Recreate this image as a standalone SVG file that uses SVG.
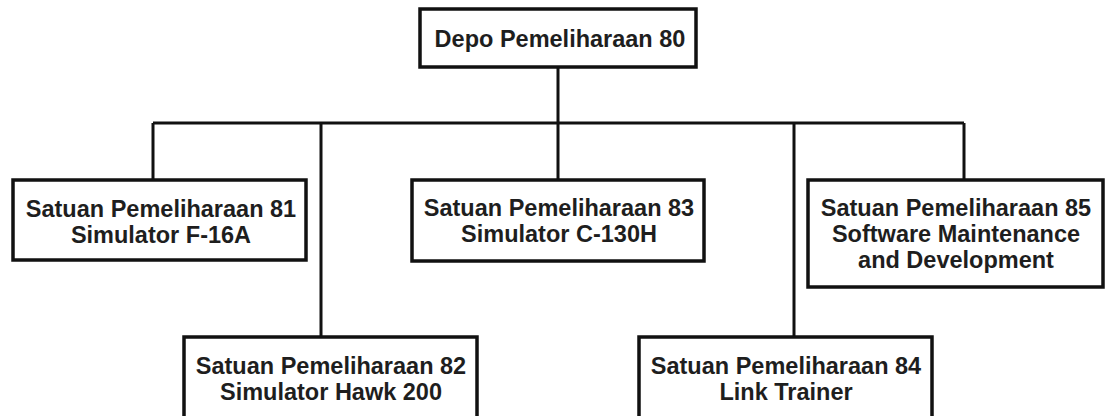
<svg xmlns="http://www.w3.org/2000/svg" width="1110" height="416" viewBox="0 0 1110 416">
<style>
.box{fill:#fff;stroke:#111;stroke-width:3.5}
.ln{fill:none;stroke:#111;stroke-width:3}
text{font-family:"Liberation Sans",Arial,sans-serif;font-weight:bold;font-size:23.5px;fill:#1e1e1e;text-anchor:middle}
</style>
<rect width="1110" height="416" fill="#fff"/>
<g id="connectors">
<path class="ln" d="M558 67V123M153 123H964M153 123V180M321 123V337M558 123V180M794 123V337M964 123V180"/>
</g>
<g id="n80">
<rect class="box" x="420" y="9" width="276" height="58"/>
<text x="560" y="47">Depo Pemeliharaan 80</text>
</g>
<g id="n81">
<rect class="box" x="13" y="180" width="293" height="80"/>
<text x="161" y="217">Satuan Pemeliharaan 81</text>
<text x="161" y="243">Simulator F-16A</text>
</g>
<g id="n83">
<rect class="box" x="412" y="180" width="292" height="81"/>
<text x="559" y="216">Satuan Pemeliharaan 83</text>
<text x="559" y="242">Simulator C-130H</text>
</g>
<g id="n85">
<rect class="box" x="808" y="180" width="295" height="107"/>
<text x="956" y="216">Satuan Pemeliharaan 85</text>
<text x="956" y="242">Software Maintenance</text>
<text x="956" y="268">and Development</text>
</g>
<g id="n82">
<rect class="box" x="184" y="337" width="293" height="90"/>
<text x="331" y="374">Satuan Pemeliharaan 82</text>
<text x="331" y="400">Simulator Hawk 200</text>
</g>
<g id="n84">
<rect class="box" x="639" y="337" width="293" height="90"/>
<text x="786" y="374">Satuan Pemeliharaan 84</text>
<text x="786" y="400">Link Trainer</text>
</g>
</svg>
